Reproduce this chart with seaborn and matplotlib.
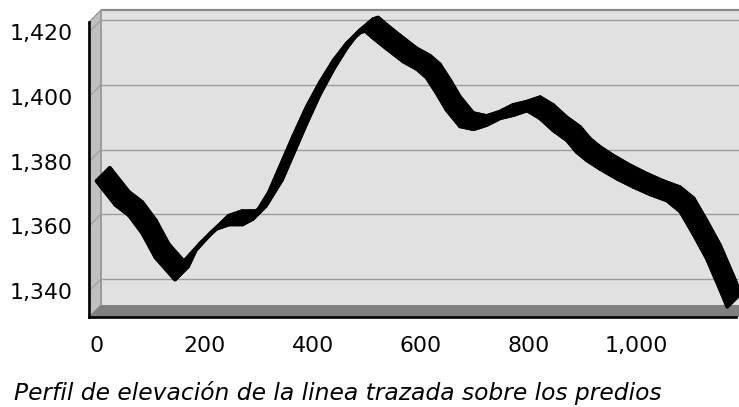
import numpy as np
import pandas as pd
import matplotlib
matplotlib.use("Agg")
import matplotlib.pyplot as plt
import seaborn as sns
from matplotlib.patches import Polygon
from matplotlib.collections import PolyCollection
from matplotlib.ticker import FuncFormatter

# ---- data ----
distance = [0, 35, 60, 85, 109, 145, 159, 190, 221, 245, 270, 289, 319, 364, 389,
            414, 439, 463, 488, 497, 513, 537, 568, 593, 611, 630, 648, 673, 698,
            722, 747, 772, 797, 821, 846, 871, 889, 908, 932, 963, 994, 1025, 1056,
            1081, 1105, 1130, 1155, 1168]
elevation = [1374.0, 1366.6, 1363.4, 1357.8, 1350.4, 1343.6, 1348.6, 1354.3, 1359.2,
             1360.6, 1360.6, 1362.3, 1370.4, 1387.7, 1396.8, 1404.5, 1411.2, 1416.4,
             1419.9, 1420.4, 1418.1, 1414.9, 1410.9, 1408.6, 1406.0, 1401.1, 1396.0,
             1390.9, 1390.0, 1391.3, 1393.4, 1394.4, 1395.8, 1393.4, 1389.6, 1386.6,
             1383.0, 1380.4, 1377.8, 1374.8, 1372.2, 1369.9, 1368.0, 1364.6, 1357.7,
             1350.1, 1340.4, 1335.2]
x_ticks = [0, 200, 400, 600, 800, 1000]
y_ticks = [1340, 1360, 1380, 1400, 1420]
caption = "Perfil de elevación de la linea trazada sobre los predios"

df = pd.DataFrame({"distance": distance, "elevation": elevation})

sns.set_style("white")
plt.rcParams["font.family"] = ["DejaVu Sans"]

W_PX, H_PX = 739, 407
fig = plt.figure(figsize=(W_PX / 100, H_PX / 100), dpi=100)
# front plane of the 3D box (pixels): x 89..736, y 22..317 (from top)
L, R, T, B = 89, 736, 22, 317
ax = fig.add_axes([L / W_PX, (H_PX - B) / H_PX, (R - L) / W_PX, (B - T) / H_PX])
ax.set_facecolor("none")

x0, x1 = -14.3, 1183.9
y0, y1 = 1331.97, 1423.09
ax.set_xlim(x0, x1)
ax.set_ylim(y0, y1)

px_x = (R - L) / (x1 - x0)
px_y = (B - T) / (y1 - y0)
DEPTH = 12  # wall depth in pixels
dx, dy = DEPTH / px_x, DEPTH / px_y
RIB = 13
rdx, rdy = RIB / px_x, RIB / px_y

# back wall
ax.add_patch(Polygon([(x0 + dx, y0 + dy), (x1 + dx + 30, y0 + dy), (x1 + dx + 30, y1 + dy),
                      (x0 + dx, y1 + dy)], closed=True, facecolor="#e1e1e1",
                     edgecolor="none", clip_on=False, zorder=0.5))
# left side wall
ax.add_patch(Polygon([(x0, y0), (x0 + dx, y0 + dy), (x0 + dx, y1 + dy), (x0, y1)],
                     closed=True, facecolor="#c0c0c0", edgecolor="#8c8c8c", lw=0.8,
                     clip_on=False, zorder=0.6))
# floor
ax.add_patch(Polygon([(x0, y0), (x1 + 30, y0), (x1 + dx + 30, y0 + dy), (x0 + dx, y0 + dy)],
                     closed=True, facecolor="#808080", edgecolor="none",
                     clip_on=False, zorder=0.7))
# back wall borders
ax.plot([x0 + dx, x1 + dx + 30], [y1 + dy, y1 + dy], color="#8a8a8a", lw=1.6,
        clip_on=False, zorder=0.8, solid_capstyle="butt")
ax.plot([x0 + dx, x0 + dx], [y0 + dy, y1 + dy], color="#9a9a9a", lw=1.2,
        clip_on=False, zorder=0.8)
# gridlines on back wall and diagonals on the side wall
for yt in y_ticks:
    ax.plot([x0 + dx, x1 + dx + 30], [yt + dy, yt + dy], color="#9c9c9c", lw=1.0,
            clip_on=False, zorder=0.8)
    ax.plot([x0, x0 + dx], [yt, yt + dy], color="#9c9c9c", lw=0.8,
            clip_on=False, zorder=0.8)

# ribbon (3D line)
xs, ys = df["distance"].to_numpy(), df["elevation"].to_numpy()
quads = []
for i in range(len(xs) - 1):
    quads.append([(xs[i], ys[i]), (xs[i + 1], ys[i + 1]),
                  (xs[i + 1] + rdx, ys[i + 1] + rdy), (xs[i] + rdx, ys[i] + rdy)])
pc = PolyCollection(quads, facecolors="black", edgecolors="black", linewidths=2.8,
                    clip_on=False, zorder=3)
ax.add_collection(pc)
sns.lineplot(data=df, x="distance", y="elevation", color="black", lw=2.8, ax=ax,
             sort=False, clip_on=False, zorder=3.1)
back = pd.DataFrame({"distance": df["distance"] + rdx, "elevation": df["elevation"] + rdy})
sns.lineplot(data=back, x="distance", y="elevation", color="black", lw=2.8, ax=ax,
             sort=False, clip_on=False, zorder=3.1)

# axes styling
for s in ["top", "right"]:
    ax.spines[s].set_visible(False)
for s in ["left", "bottom"]:
    ax.spines[s].set_color("black")
    ax.spines[s].set_linewidth(1.9)
    ax.spines[s].set_zorder(4)
ax.set_xticks(x_ticks)
ax.set_yticks(y_ticks)
fmt = FuncFormatter(lambda v, p: f"{v:,.0f}")
ax.xaxis.set_major_formatter(fmt)
ax.yaxis.set_major_formatter(fmt)
ax.tick_params(axis="both", direction="out", length=7.2, width=1.4, color="black",
               labelsize=15.8, labelcolor="black")
ax.tick_params(axis="x", pad=6.5)
ax.tick_params(axis="y", pad=4.5)
ax.set_xlabel("")
ax.set_ylabel("")
ax.grid(False)

fig.text(14 / W_PX, 7 / H_PX, caption, fontsize=16.8, style="italic", ha="left",
         va="baseline", color="black")

fig.savefig("out.png", dpi=100)
